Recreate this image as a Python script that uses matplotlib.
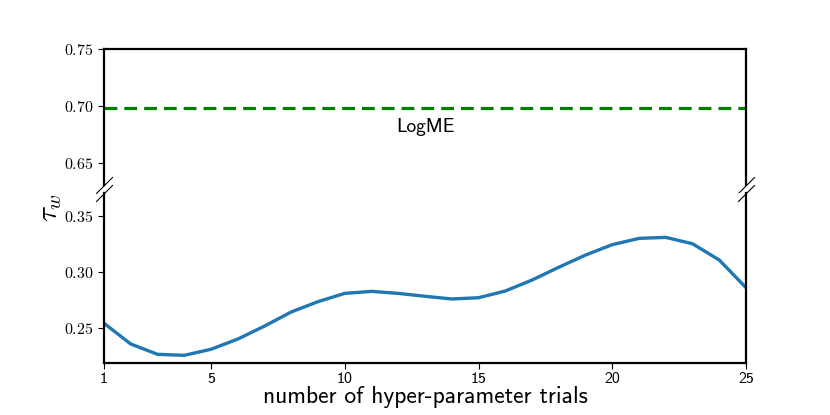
import os
import matplotlib
matplotlib.use("Agg")
import matplotlib.pyplot as plt
from matplotlib import font_manager

ttf_dir = os.path.join(matplotlib.get_data_path(), "fonts", "ttf")
for f in ("cmss10.ttf", "cmr10.ttf"):
    font_manager.fontManager.addfont(os.path.join(ttf_dir, f))
plt.rcParams["mathtext.fontset"] = "cm"
plt.rcParams["axes.unicode_minus"] = False

# ---- data ----
trials = list(range(1, 26))
tau_w = [0.2545, 0.2360, 0.2268, 0.2259, 0.2313, 0.2404, 0.2520, 0.2646,
         0.2738, 0.2812, 0.2830, 0.2812, 0.2786, 0.2762, 0.2773, 0.2833,
         0.2931, 0.3045, 0.3154, 0.3247, 0.3303, 0.3312, 0.3255, 0.3110,
         0.2863]
logme_tau = 0.698
logme_label = "LogME"
x_ticks = [1, 5, 10, 15, 20, 25]
top_yticks = [0.65, 0.70, 0.75]
bot_yticks = [0.25, 0.30, 0.35]
xlabel = "number of hyper-parameter trials"
ylabel = r"$\tau_w$"

fig = plt.figure(figsize=(8.3, 4.15), dpi=100)
ax_top = fig.add_axes([0.1253, 0.5542, 0.7735, 0.3277])
ax_bot = fig.add_axes([0.1253, 0.1260, 0.7735, 0.4089])

ax_top.axhline(logme_tau, color="green", linestyle="--", linewidth=2.3, dashes=(4, 2.2))
ax_top.text(13, 0.682, logme_label, ha="center", va="center",
            fontsize=14, family="cmss10")
ax_bot.plot(trials, tau_w, color="#1f77b4", linewidth=2.4)

for ax in (ax_top, ax_bot):
    ax.set_xlim(1, 25)
    for s in ax.spines.values():
        s.set_linewidth(1.6)
        s.set_color("black")
    ax.tick_params(axis="y", labelsize=11.5, length=4, width=0.8)

ax_top.set_ylim(0.631, 0.75)
ax_bot.set_ylim(0.2193, 0.3708)
ax_top.set_yticks(top_yticks)
ax_top.set_yticklabels([f"${v:.2f}$" for v in top_yticks])
ax_bot.set_yticks(bot_yticks)
ax_bot.set_yticklabels([f"${v:.2f}$" for v in bot_yticks])

ax_top.spines["bottom"].set_visible(False)
ax_bot.spines["top"].set_visible(False)
ax_top.tick_params(axis="x", which="both", bottom=False, labelbottom=False)
ax_bot.set_xticks(x_ticks)
ax_bot.set_xticklabels([str(v) for v in x_ticks], family="cmss10", fontsize=11.5)
ax_bot.tick_params(axis="x", length=4, width=0.8, pad=3)
ax_bot.set_xlabel(xlabel, family="cmss10", fontsize=17, labelpad=0)

# break marks
d = 1.0
kw = dict(marker=[(-1, -d), (1, d)], markersize=12, linestyle="none",
          color="k", mec="k", mew=0.8, clip_on=False)
ax_top.plot([0, 1], [0, 0], transform=ax_top.transAxes, **kw)
ax_bot.plot([0, 1], [1, 1], transform=ax_bot.transAxes, **kw)

fig.text(0.060, 0.50, ylabel, rotation=90, ha="center", va="center", fontsize=21)

fig.savefig("out.png", dpi=100)
